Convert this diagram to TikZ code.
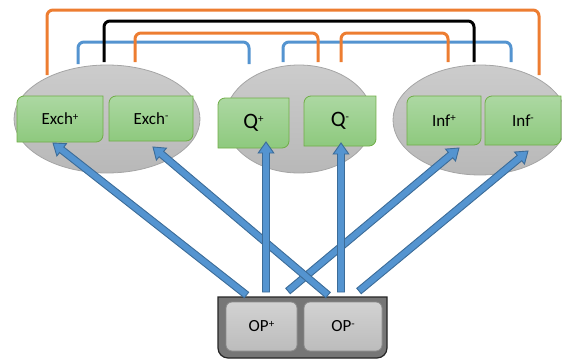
\documentclass[tikz,border=0pt]{standalone}
\usepackage{fontspec}
\setmainfont{Carlito}
\usetikzlibrary{calc,shapes.geometric}
\definecolor{orng}{RGB}{237,125,49}
\definecolor{blu}{RGB}{84,148,208}
\definecolor{bludark}{RGB}{60,108,152}
\definecolor{grnTop}{RGB}{172,216,162}
\definecolor{grnBot}{RGB}{142,201,126}
\definecolor{grnLine}{RGB}{112,173,71}
\definecolor{ellTop}{RGB}{204,204,204}
\definecolor{ellBot}{RGB}{184,184,184}
\definecolor{ellLine}{RGB}{165,165,165}
\definecolor{opTop}{RGB}{210,210,210}
\definecolor{opBot}{RGB}{188,188,188}
\definecolor{opLine}{RGB}{140,140,140}
\definecolor{opOuter}{RGB}{118,118,118}
\pgfdeclarelayer{ells}
\pgfdeclarelayer{links}
\pgfdeclarelayer{boxes}
\pgfsetlayers{links,ells,boxes,main}
\newcommand\sups[1]{\raisebox{0.55ex}{\fontsize{11}{12}\selectfont #1}}
\tikzset{
  link/.style={line width=3pt, rounded corners=6pt},
  grp/.style={ellipse, draw=ellLine, line width=0.8pt, top color=ellTop, bottom color=ellBot, inner sep=0pt, outer sep=0pt},
  lbl/.style={inner sep=0pt, outer sep=0pt, font=\fontsize{17}{20}\selectfont},
  qlbl/.style={inner sep=0pt, outer sep=0pt, font=\fontsize{22}{25}\selectfont},
  greenfill/.style={draw=grnLine, line width=0.8pt, top color=grnTop, bottom color=grnBot},
  opfill/.style={draw=opLine, line width=0.8pt, top color=opTop, bottom color=opBot, rounded corners=6pt},
  fatarr/.style={fill=blu, draw=bludark, line width=0.9pt, line join=miter},
}
\newcommand\dcbox[1]{%
  \begin{pgfonlayer}{boxes}
  \path[greenfill] (#1.south west) -- ([yshift=-7pt]#1.north west)
    arc[start angle=180,end angle=90,radius=7pt] -- (#1.north east)
    -- ([yshift=7pt]#1.south east) arc[start angle=0,end angle=-90,radius=7pt] -- cycle;
  \end{pgfonlayer}}
\newcommand\fatarrow[2]{%
  \draw[fatarr] let \p1=#1, \p2=#2,
    \n1={atan2(\y2-\y1,\x2-\x1)}, \n2={veclen(\x2-\x1,\y2-\y1)} in
    [shift={(\p1)}, rotate=\n1]
    (0pt,-3.5pt) -- ({\n2-11pt},-3.5pt) -- ({\n2-11pt},-7.8pt) -- (\n2,0pt)
    -- ({\n2-11pt},7.8pt) -- ({\n2-11pt},3.5pt) -- (0pt,3.5pt) -- cycle;}
\begin{document}
\begin{tikzpicture}[x=1pt,y=1pt]
\useasboundingbox (0,0) rectangle (562,-359);
% group ellipses
\begin{pgfonlayer}{ells}
\node[grp, minimum width=186pt, minimum height=108pt] (g1) at (107,-119) {};
\node[grp, minimum width=148pt, minimum height=108pt] (g2) at (299,-119) {};
\node[grp, minimum width=174pt, minimum height=110pt] (g3) at (480,-120) {};
\end{pgfonlayer}
% top links
\begin{pgfonlayer}{links}
\draw[link, draw=blu] ([shift={(-29,1)}]g1.north) |- ([shift={(-50,23)}]g2.north) -- ([shift={(-50,1)}]g2.north);
\draw[link, draw=blu] ([shift={(-16,3)}]g2.north) |- ([shift={(31,23)}]g3.north) -- ([shift={(31,3)}]g3.north);
\draw[link, draw=orng] ([shift={(28,3)}]g1.north) |- ([shift={(19,32)}]g2.north) -- ([shift={(19,3)}]g2.north);
\draw[link, draw=orng] ([shift={(42,3)}]g2.north) |- ([shift={(-32,32)}]g3.north) -- ([shift={(-32,3)}]g3.north);
\draw[link, draw=black] ([shift={(-3,3)}]g1.north) |- ([shift={(-6,44)}]g3.north) -- ([shift={(-6,3)}]g3.north);
\draw[link, draw=orng] ([shift={(-60,-10)}]g1.north) |- ([shift={(59,55)}]g3.north) -- ([shift={(59,-10)}]g3.north);
\end{pgfonlayer}
% green boxes
\node[lbl, minimum width=86pt, minimum height=46pt] (exchp) at (60,-119) {Exch\sups{+}};
\node[lbl, minimum width=84pt, minimum height=45pt] (exchm) at (151,-118.5) {Exch\sups{-}};
\node[qlbl, minimum width=71pt, minimum height=50pt] (qp) at (253.5,-123) {Q\sups{+}};
\node[qlbl, minimum width=72pt, minimum height=50pt] (qm) at (340,-121) {Q\sups{-}};
\node[lbl, minimum width=74pt, minimum height=49pt] (infp) at (444,-120.5) {Inf\sups{+}};
\node[lbl, minimum width=76pt, minimum height=49pt] (infm) at (523,-120.5) {Inf\sups{-}};
\dcbox{exchp}\dcbox{exchm}\dcbox{qp}\dcbox{qm}\dcbox{infp}\dcbox{infm}
% OP box
\node[inner sep=0pt, outer sep=0pt, minimum width=169pt, minimum height=61pt] (opbox) at (302.5,-327.5) {};
\begin{pgfonlayer}{boxes}
\path[draw=black!85, line width=1.2pt, fill=opOuter] (opbox.north west) -- ([yshift=10pt]opbox.south west)
  arc[start angle=180,end angle=270,radius=10pt] -- ([xshift=-10pt]opbox.south east)
  arc[start angle=-90,end angle=0,radius=10pt] -- (opbox.north east) -- cycle;
\end{pgfonlayer}
\node[opfill, lbl, minimum width=71pt, minimum height=49pt] (opp) at (261.5,-326.5) {OP\sups{+}};
\node[opfill, lbl, minimum width=78pt, minimum height=49pt] (opm) at (343,-326.5) {OP\sups{-}};
% arrows
\fatarrow{([shift={(-56,2)}]opbox.north)}{([shift={(-7,-1)}]exchp.south)}
\fatarrow{([shift={(56.5,6)}]opbox.north)}{([shift={(5,-6)}]infm.south)}
\fatarrow{([shift={(-14.5,6)}]opbox.north)}{([shift={(15,-3)}]infp.south)}
\fatarrow{([shift={(25.5,2)}]opbox.north)}{([shift={(2,-6)}]exchm.south)}
\fatarrow{([shift={(-36.5,5)}]opbox.north)}{([shift={(12.5,6)}]qp.south)}
\fatarrow{([shift={(38.5,5)}]opbox.north)}{([shift={(1,3)}]qm.south)}
\end{tikzpicture}
\end{document}
